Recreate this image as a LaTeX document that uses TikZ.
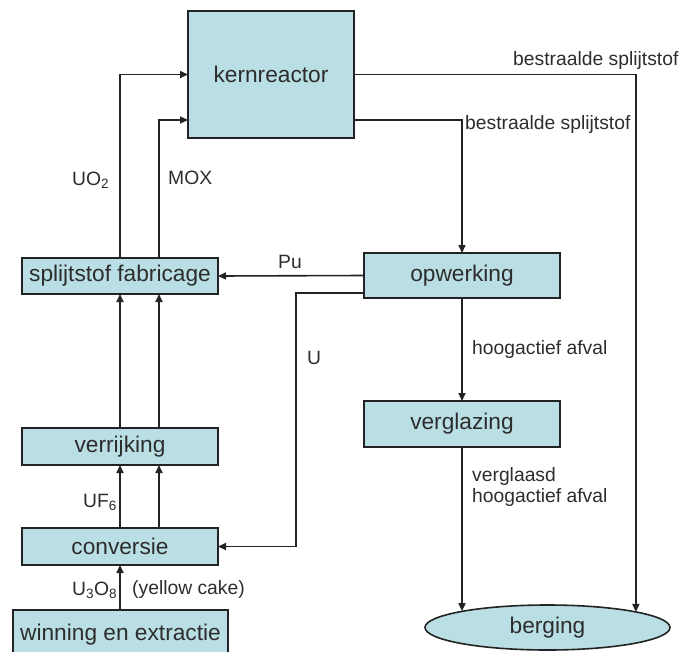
\documentclass[tikz,border=0pt]{standalone}
\usepackage{fontspec}
\setmainfont{Liberation Sans}
\usetikzlibrary{arrows.meta,calc,shapes.geometric}
\definecolor{boxfill}{RGB}{185,222,227}
\definecolor{ink}{RGB}{35,35,35}
\definecolor{txt}{RGB}{45,45,45}
\tikzset{
  procbox/.style={draw=ink,line width=1.6pt,fill=boxfill,inner sep=0pt,outer sep=0pt,
    font=\fontsize{22.7}{26}\selectfont,text=txt},
  storeshape/.style={ellipse,draw=ink,line width=1.6pt,fill=boxfill,inner sep=0pt,outer sep=0pt,
    font=\fontsize{22.7}{26}\selectfont,text=txt,minimum width=245pt,minimum height=45pt},
  lbl/.style={inner sep=0pt,font=\fontsize{19.3}{21}\selectfont,text=txt},
  flow/.style={draw=ink,line width=1.6pt,-{Triangle[length=8pt,width=7pt]}},
  plain/.style={draw=ink,line width=1.6pt}
}
\begin{document}
\begin{tikzpicture}[x=1pt,y=-1pt]
\clip (0,0) rectangle (683,651);
\fill[white] (0,0) rectangle (683,651);
% boxes
\node[procbox,minimum width=166pt,minimum height=127pt] (kern) at (271,74.5) {kernreactor};
\node[procbox,minimum width=196pt,minimum height=36pt] (fab) at (120,276) {splijtstof fabricage};
\node[procbox,minimum width=196pt,minimum height=45pt] (opw) at (462,275.5) {opwerking};
\node[procbox,minimum width=196pt,minimum height=46pt] (vergl) at (462,424) {verglazing};
\node[procbox,minimum width=196pt,minimum height=37pt] (verr) at (120,446.5) {verrijking};
\node[procbox,minimum width=196pt,minimum height=37pt] (conv) at (120,546.5) {conversie};
\node[procbox,minimum width=215pt,minimum height=50pt] (win) at (120.5,635) {winning en extractie};
\node[storeshape] (berg) at (547.5,627.5) {berging};
% connectors
\draw[flow] (fab.north) |- (kern.west);
\draw[flow] ($(fab.north)+(39,0)$) |- ($(kern.west)+(0,45.5)$);
\draw[flow] (verr.north) -- (fab.south);
\draw[flow] ($(verr.north)+(39,0)$) -- ($(fab.south)+(39,0)$);
\draw[flow] (conv.north) -- (verr.south);
\draw[flow] ($(conv.north)+(39,0)$) -- ($(verr.south)+(39,0)$);
\draw[flow] (conv.south |- win.north) -- (conv.south);
\draw[flow] (opw.west) -- (fab.east);
\draw[flow] ($(opw.west)+(0,17.5)$) -- ++(-68,0) |- (conv.east);
\draw[flow] ($(kern.east)+(0,45.5)$) -| (opw.north);
\draw[flow] (opw.south) -- (vergl.north);
\draw[flow] (vergl.south) -- (vergl.south |- berg.169.4);
\draw[flow] (kern.east) -| (berg.10.2);
% labels
\node[lbl,anchor=west] (l1) at (513,61) {bestraalde splijtstof};
\node[lbl,anchor=west] (l2) at (465,125) {bestraalde splijtstof};
\node[lbl,anchor=west] (l3) at (72,180) {UO\textsubscript{2}};
\node[lbl,anchor=west] (l4) at (168,178) {MOX};
\node[lbl,anchor=west] (l5) at (278,262) {Pu};
\node[lbl,anchor=west] (l6) at (307,358) {U};
\node[lbl,anchor=west] (l7) at (472,350) {hoogactief afval};
\node[lbl,anchor=west,align=left] (l8) at (472,487) {verglaasd\\hoogactief afval};
\node[lbl,anchor=west] (l9) at (83,502) {UF\textsubscript{6}};
\node[lbl,anchor=west] (l10) at (72,590) {U\textsubscript{3}O\textsubscript{8}};
\node[lbl,anchor=west] (l11) at (132,590) {(yellow cake)};
\end{tikzpicture}
\end{document}
